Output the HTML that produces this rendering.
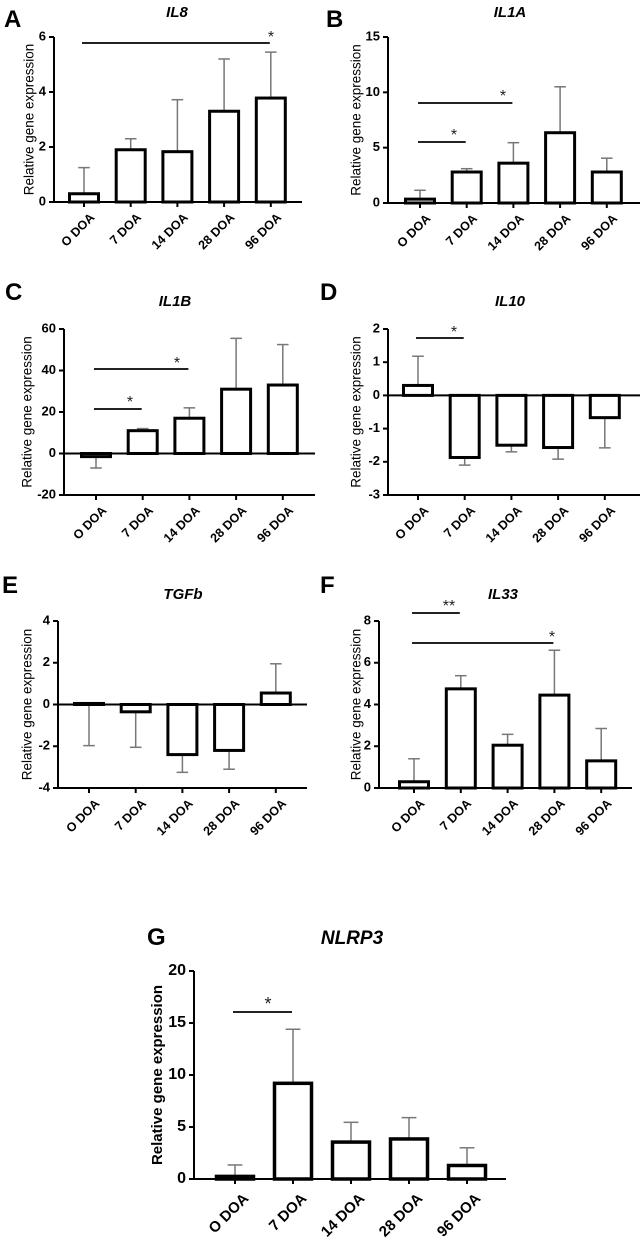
<!DOCTYPE html>
<html><head><meta charset="utf-8"><style>
html,body{margin:0;padding:0;background:#fff;}
svg{display:block;font-family:"Liberation Sans",Arial,sans-serif;}
</style></head><body>
<svg id="fig" width="642" height="1240" viewBox="0 0 642 1240"></svg>
<script>
const categories = ["O DOA","7 DOA","14 DOA","28 DOA","96 DOA"];
const il8Values = [0.3,1.9,1.83,3.3,3.78];
const il8Err = [1.25,2.3,3.72,5.2,5.45];
const il1aValues = [0.35,2.8,3.6,6.35,2.8];
const il1aErr = [1.15,3.1,5.45,10.5,4.05];
const il1bValues = [-1.5,11,17,31,33];
const il1bErr = [-7,12,22,55.5,52.5];
const il10Values = [0.3,-1.87,-1.5,-1.57,-0.67];
const il10Err = [1.18,-2.1,-1.7,-1.92,-1.58];
const tgfbValues = [0.05,-0.35,-2.4,-2.2,0.55];
const tgfbErr = [-1.97,-2.05,-3.25,-3.1,1.95];
const il33Values = [0.3,4.75,2.05,4.45,1.3];
const il33Err = [1.4,5.38,2.57,6.6,2.85];
const nlrp3Values = [0.25,9.2,3.55,3.85,1.3];
const nlrp3Err = [1.35,14.4,5.45,5.9,3.0];
const il8Ticks = [0,2,4,6];
const il1aTicks = [0,5,10,15];
const il1bTicks = [-20,0,20,40,60];
const il10Ticks = [-3,-2,-1,0,1,2];
const tgfbTicks = [-4,-2,0,2,4];
const il33Ticks = [0,2,4,6,8];
const nlrp3Ticks = [0,5,10,15,20];

const NS="http://www.w3.org/2000/svg";
const svg=document.getElementById('fig');
function mk(tag,attrs,parent,text){const e=document.createElementNS(NS,tag);for(const k in attrs)e.setAttribute(k,attrs[k]);if(text!==undefined)e.textContent=text;(parent||svg).appendChild(e);return e;}

const panels=[
 {id:"a",letter:"A",title:"IL8",vals:il8Values,err:il8Err,ticks:il8Ticks,ax:54,yTop:37,yBot:202,x0:84,dx:46.7,bw:29,end:302,lx:4,ly:27,tx:177,ty:17,ylx:30,
  sig:[[0,4,43,"*",271,38]]},
 {id:"b",letter:"B",title:"IL1A",vals:il1aValues,err:il1aErr,ticks:il1aTicks,ax:388,yTop:37,yBot:203,x0:420,dx:46.7,bw:29,end:640,lx:326,ly:27,tx:510,ty:17,ylx:357,
  sig:[[0,1,142,"*",454,136],[0,2,103,"*",503,97]]},
 {id:"c",letter:"C",title:"IL1B",vals:il1bValues,err:il1bErr,ticks:il1bTicks,ax:64,yTop:329,yBot:495,x0:96,dx:46.7,bw:29,end:315,lx:5,ly:300,tx:175,ty:306,ylx:28,
  sig:[[0,1,409,"*",130,403],[0,2,369,"*",177,364]]},
 {id:"d",letter:"D",title:"IL10",vals:il10Values,err:il10Err,ticks:il10Ticks,ax:388,yTop:329,yBot:495,x0:418,dx:46.7,bw:29,end:640,lx:320,ly:300,tx:510,ty:306,ylx:357,
  sig:[[0,1,338,"*",454,333]]},
 {id:"e",letter:"E",title:"TGFb",vals:tgfbValues,err:tgfbErr,ticks:tgfbTicks,ax:58,yTop:621,yBot:788,x0:89,dx:46.7,bw:29,end:307,lx:2,ly:593,tx:183,ty:599,ylx:28,
  sig:[]},
 {id:"f",letter:"F",title:"IL33",vals:il33Values,err:il33Err,ticks:il33Ticks,ax:379,yTop:621,yBot:788,x0:414,dx:46.8,bw:29,end:632,lx:320,ly:593,tx:503,ty:599,ylx:357,
  sig:[[0,1,613,"**",449,607],[0,3,643,"*",552,638]]},
 {id:"g",letter:"G",title:"NLRP3",vals:nlrp3Values,err:nlrp3Err,ticks:nlrp3Ticks,ax:194,yTop:971,yBot:1179,x0:235,dx:58,bw:37,end:506,lx:147,ly:945,tx:352,ty:944,ylx:158,big:true,
  sig:[[0,1,1012,"*",268,1006]]}
];

panels.forEach(p=>{
  const g=mk('g',{});
  
  
  const big=!!p.big;
  const tickFs=big?16:13, labFs=big?15:13.5, titleFs=big?19:15, xFs=big?15:12.5;
  const min=p.ticks[0], max=p.ticks[p.ticks.length-1];
  const y=v=>p.yBot-(v-min)/(max-min)*(p.yBot-p.yTop);
  const x=i=>p.x0+i*p.dx;
  const L=mk('text',{x:p.lx,y:p.ly,'font-size':24,'font-weight':'bold'},g,p.letter);
  
  
  const T=mk('text',{x:p.tx,y:p.ty,'font-size':titleFs,'font-weight':'bold','font-style':'italic','text-anchor':'middle'},g,p.title);
  
  
  const cy=(p.yTop+p.yBot)/2;
  const YL=mk('text',{x:p.ylx,y:cy,'font-size':labFs,'text-anchor':'middle','dominant-baseline':'middle',transform:`rotate(-90 ${p.ylx} ${cy})`,'font-weight':big?'bold':'normal'},g,"Relative gene expression");
  
  
  const ya=mk('line',{x1:p.ax,y1:p.yTop,x2:p.ax,y2:p.yBot,stroke:'#000','stroke-width':2},g);
  
  
  p.ticks.forEach(t=>{
    mk('line',{x1:p.ax-5,y1:y(t),x2:p.ax,y2:y(t),stroke:'#000','stroke-width':2},g);
    const tl=mk('text',{x:p.ax-8,y:y(t),'font-size':tickFs,'font-weight':'bold','text-anchor':'end','dominant-baseline':'middle'},g,String(t));
    
    
  });
  p.vals.forEach((v,i)=>{
    const cx=x(i);
    const e=p.err[i];
    mk('line',{x1:cx,y1:y(v),x2:cx,y2:y(e),stroke:'#777','stroke-width':1.5},g);
    mk('line',{x1:cx-p.bw*0.2,y1:y(e),x2:cx+p.bw*0.2,y2:y(e),stroke:'#777','stroke-width':1.5},g);
    const y0=y(0),yv=y(v);
    const r=mk('rect',{x:cx-p.bw/2,y:Math.min(y0,yv),width:p.bw,height:Math.max(Math.abs(y0-yv),1),fill:'#fff',stroke:'#000','stroke-width':big?3.5:3},g);
    
    
  });
  const zeroY=y(0);
  const xa=mk('line',{x1:p.ax,y1:zeroY,x2:p.end,y2:zeroY,stroke:'#000','stroke-width':2},g);
  
  
  if(min<0){
    const xb=mk('line',{x1:p.ax,y1:p.yBot,x2:p.end,y2:p.yBot,stroke:'#000','stroke-width':2},g);
    
    
  }
  categories.forEach((c,i)=>{
    const cx=x(i);
    mk('line',{x1:cx,y1:p.yBot,x2:cx,y2:p.yBot+5,stroke:'#000','stroke-width':2},g);
    const ax=cx+(big?7:5), ay=p.yBot+(big?13:10);
    const tl=mk('text',{x:ax,y:ay,'font-size':xFs,'font-weight':'bold','text-anchor':'end','dominant-baseline':'hanging',transform:`rotate(-45 ${ax} ${ay})`},g,c);
    
    
  });
  p.sig.forEach(s=>{
    const sl=mk('line',{x1:x(s[0])-2,y1:s[2],x2:x(s[1])-1,y2:s[2],stroke:'#222','stroke-width':2},g);
    
    
    const st=mk('text',{x:s[4],y:s[5]+4,'font-size':big?18:16,'text-anchor':'middle',fill:'#222'},g,s[3]);
    
    
  });
});
</script>
</body></html>
